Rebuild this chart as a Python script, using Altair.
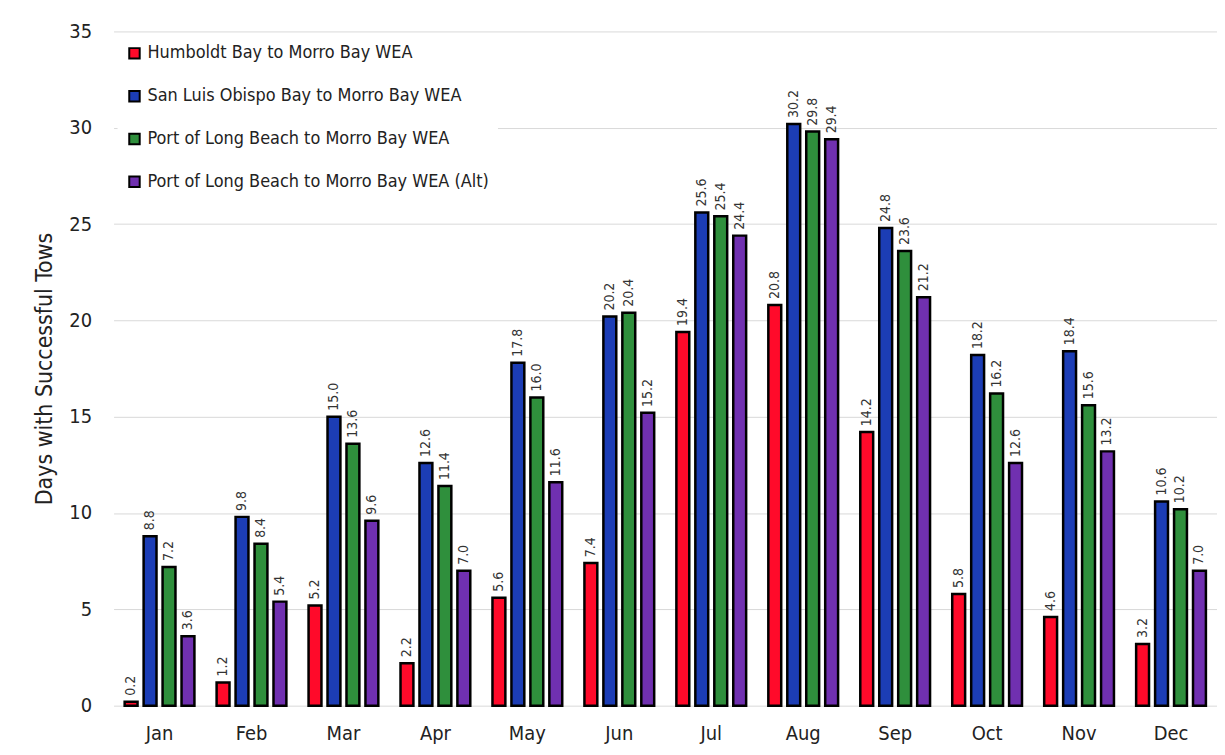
import altair as alt
import pandas as pd

months = ["Jan", "Feb", "Mar", "Apr", "May", "Jun", "Jul", "Aug", "Sep", "Oct", "Nov", "Dec"]
series = [
    "Humboldt Bay to Morro Bay WEA",
    "San Luis Obispo Bay to Morro Bay WEA",
    "Port of Long Beach to Morro Bay WEA",
    "Port of Long Beach to Morro Bay WEA (Alt)",
]
humboldt = [0.2, 1.2, 5.2, 2.2, 5.6, 7.4, 19.4, 20.8, 14.2, 5.8, 4.6, 3.2]
slo = [8.8, 9.8, 15.0, 12.6, 17.8, 20.2, 25.6, 30.2, 24.8, 18.2, 18.4, 10.6]
longbeach = [7.2, 8.4, 13.6, 11.4, 16.0, 20.4, 25.4, 29.8, 23.6, 16.2, 15.6, 10.2]
longbeach_alt = [3.6, 5.4, 9.6, 7.0, 11.6, 15.2, 24.4, 29.4, 21.2, 12.6, 13.2, 7.0]
colors = ["#ff0a2a", "#1c3db5", "#2f8f3c", "#7030b0"]

rows = []
for s, vals in zip(series, [humboldt, slo, longbeach, longbeach_alt]):
    for m, v in zip(months, vals):
        rows.append({"month": m, "series": s, "value": v})
df = pd.DataFrame(rows)

FONT = "DejaVu Sans Condensed, DejaVu Sans, sans-serif"

x_enc = alt.X("month:N", sort=months, title=None,
              scale=alt.Scale(paddingInner=0.2, paddingOuter=0.1),
              axis=alt.Axis(labelFontSize=20, labelPadding=18, ticks=False, domain=False,
                            labelAngle=0, labelColor="#222", labelFont=FONT))
xo_enc = alt.XOffset("series:N", sort=series,
                     scale=alt.Scale(paddingInner=0.32, paddingOuter=0.1))

bars = alt.Chart(df).mark_bar(stroke="black", strokeWidth=2.5).encode(
    x=x_enc,
    xOffset=xo_enc,
    y=alt.Y("value:Q", title="Days with Successful Tows",
            scale=alt.Scale(domain=[0, 35]),
            axis=alt.Axis(values=[0, 5, 10, 15, 20, 25, 30, 35], labelFontSize=20,
                          labelPadding=22, ticks=False, domain=False, grid=True,
                          gridColor="#d9d9d9", gridWidth=1, titleFontSize=23,
                          titleFontWeight="normal", titlePadding=12, labelColor="#222",
                          titleColor="#222", labelFont=FONT, titleFont=FONT)),
    color=alt.Color("series:N", sort=series,
                    scale=alt.Scale(domain=series, range=colors),
                    legend=alt.Legend(title=None, orient="none", legendX=4, legendY=5,
                                      symbolType="square", symbolSize=110,
                                      symbolStrokeColor="black", symbolStrokeWidth=2,
                                      labelFontSize=18, labelFont=FONT, labelColor="#222",
                                      rowPadding=23, fillColor="white", padding=8,
                                      labelLimit=500)),
)

labels = alt.Chart(df).mark_text(angle=270, align="left", baseline="middle", dx=6,
                                 fontSize=14, font=FONT, color="#333").encode(
    x=alt.X("month:N", sort=months),
    xOffset=xo_enc,
    y="value:Q",
    text=alt.Text("value:Q", format=".1f"),
)

chart = alt.layer(bars, labels).properties(
    width=1108, height=677,
    autosize=alt.AutoSizeParams(type="none"),
    padding={"left": 106, "top": 22, "right": 0, "bottom": 44},
).configure_view(stroke=None)

chart.save("out.html", embed_options={"renderer": "svg", "actions": False})
